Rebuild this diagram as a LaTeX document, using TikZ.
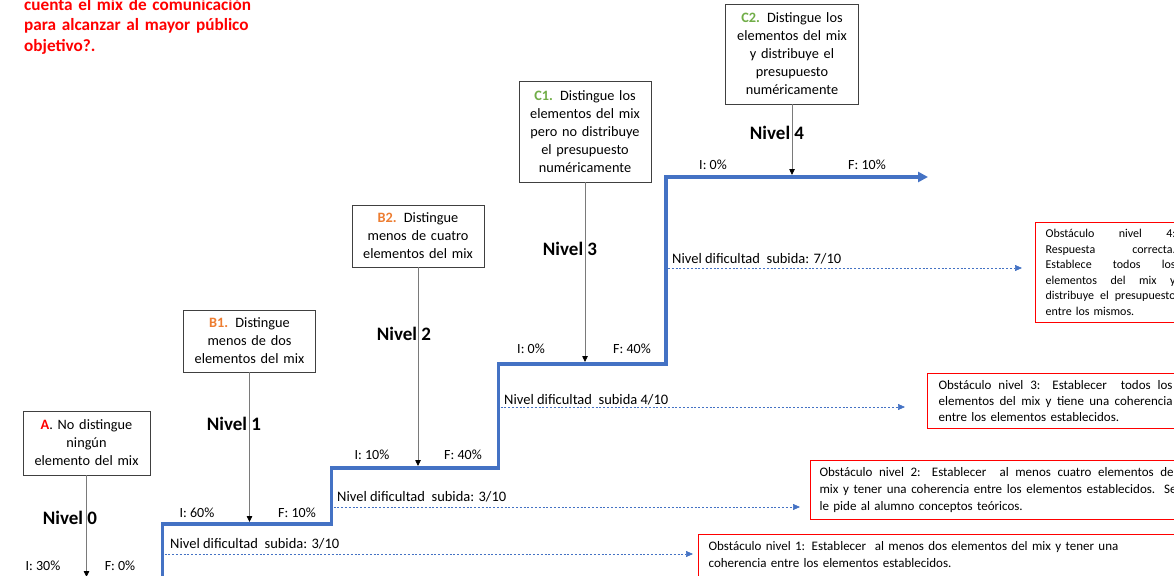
\documentclass[tikz,border=0pt]{standalone}
\usepackage{fontspec}
\setmainfont{Carlito}
\usetikzlibrary{arrows.meta}
\definecolor{oblue}{HTML}{4472C4}
\definecolor{ored}{HTML}{FF0000}
\definecolor{oorange}{HTML}{ED7D31}
\definecolor{ogreen}{HTML}{70AD47}
\definecolor{ogray}{HTML}{7A7A7A}
\newcommand{\jl}[1]{{\spaceskip=0pt\xspaceskip=0pt\makebox[\hsize][s]{#1}}}
\begin{document}
\begin{tikzpicture}[x=1pt,y=-1pt,
  lvlbox/.style={draw=black!75, line width=0.9pt, fill=white, align=center, inner sep=0pt,
    font=\fontsize{14.3}{18}\selectfont},
  obox/.style={draw=ored, line width=1.2pt, anchor=north west, align=left,
    inner xsep=10pt, inner ysep=7pt, font=\fontsize{13}{17}\selectfont},
  nivel/.style={font=\fontsize{19}{22}\selectfont\bfseries, inner sep=0pt},
  pct/.style={font=\fontsize{14}{16}\selectfont, inner sep=0pt},
  diflabel/.style={font=\fontsize{14.5}{16}\selectfont, inner sep=0pt, anchor=base west},
  garrow/.style={draw=ogray, line width=0.8pt, -{Triangle[length=6pt,width=5.5pt,color=black]}},
  stair/.style={draw=oblue, line width=3.2pt, line join=miter, -{Triangle[length=10pt,width=10pt]}},
  dotarrow/.style={draw=oblue, line width=0.7pt, dash pattern=on 2pt off 1.8pt,
    -{Triangle[length=7pt,width=6pt,color=oblue]}}
]
\useasboundingbox (0,0) rectangle (1174,575);
\clip (0,0) rectangle (1174,575);

% title
\node[anchor=base west, align=left, inner sep=0pt, text width=300pt, text=ored,
  font=\fontsize{17.2}{20.3}\selectfont\bfseries] (title) at (24,10.5)
  {cuenta el mix de comunicación\\ para alcanzar al mayor público\\ objetivo?.};

% staircase
\coordinate (s0) at (162.5,585);
\coordinate (s1) at (162.5,524);
\coordinate (s2) at (331.5,524);
\coordinate (s3) at (331.5,468);
\coordinate (s4) at (498.5,468);
\coordinate (s5) at (498.5,364);
\coordinate (s6) at (666,364);
\coordinate (s7) at (666,177);
\coordinate (s8) at (928,177);
\draw[stair] (s0) -- (s1) -- (s2) -- (s3) -- (s4) -- (s5) -- (s6) -- (s7) -- (s8);

% level boxes
\node[lvlbox, minimum width=127pt, minimum height=64pt, text width=125pt] (A) at (86.5,443)
  {\textcolor{ored}{\textbf{A}}. No distingue\\ ningún\\ elemento del mix};
\node[lvlbox, minimum width=132pt, minimum height=62pt, text width=130pt] (B1) at (249.5,341)
  {\textcolor{oorange}{\textbf{B1.}} Distingue\\ menos de dos\\ elementos del mix};
\node[lvlbox, minimum width=132pt, minimum height=62pt, text width=130pt] (B2) at (418,236)
  {\textcolor{oorange}{\textbf{B2.}} Distingue\\ menos de cuatro\\ elementos del mix};
\node[lvlbox, minimum width=132pt, minimum height=101pt, text width=130pt] (C1) at (585,131.5)
  {\textcolor{ogreen}{\textbf{C1.}} Distingue los\\ elementos del mix\\ pero no distribuye\\ el presupuesto\\ numéricamente};
\node[lvlbox, minimum width=133pt, minimum height=100pt, text width=131pt] (C2) at (792,54)
  {\textcolor{ogreen}{\textbf{C2.}} Distingue los\\ elementos del mix\\ y distribuye el\\ presupuesto\\ numéricamente};

% nivel labels
\node[nivel] (n0) at (70,518) {Nivel 0};
\node[nivel] (n1) at (234,424) {Nivel 1};
\node[nivel] (n2) at (404,334) {Nivel 2};
\node[nivel] (n3) at (570,249) {Nivel 3};
\node[nivel] (n4) at (777,133) {Nivel 4};

% I / F labels
\node[pct] (i0) at (43,566) {I: 30\%};
\node[pct] (f0) at (120,566) {F: 0\%};
\node[pct] (i1) at (197,513) {I: 60\%};
\node[pct] (f1) at (297,513) {F: 10\%};
\node[pct] (i2) at (372,455) {I: 10\%};
\node[pct] (f2) at (463,455) {F: 40\%};
\node[pct] (i3) at (531,349) {I: 0\%};
\node[pct] (f3) at (632,349) {F: 40\%};
\node[pct] (i4) at (713,165) {I: 0\%};
\node[pct] (f4) at (867,165) {F: 10\%};

% level arrows
\coordinate (e0) at (86.5,577);
\draw[garrow] (A.south) -- (A.south |- e0);
\draw[garrow, shorten >=2pt] (B1.south) -- (B1.south |- s1);
\draw[garrow, shorten >=2pt] (B2.south) -- (B2.south |- s3);
\draw[garrow, shorten >=2pt] (C1.south) -- (C1.south |- s5);
\draw[garrow, shorten >=2pt] (C2.south) -- (C2.south |- s7);

% obstacle boxes
\node[obox, text width=500pt] (O1) at (698,534)
  {Obstáculo nivel 1: Establecer\ \ al menos dos elementos del mix y tener una\\
   coherencia entre los elementos establecidos.\\ \mbox{}};
\node[obox, text width=357pt, inner xsep=9pt] (O2) at (810,460)
  {\jl{Obstáculo nivel 2: Establecer\ \ al menos cuatro elementos del}\\
   \jl{mix y tener una coherencia entre los elementos establecidos. Se}\\
   le pide al alumno conceptos teóricos.};
\node[obox, text width=234pt, inner xsep=11pt, font=\fontsize{13}{16}\selectfont] (O3) at (927,373)
  {\jl{Obstáculo nivel 3: Establecer\ \ todos los}\\
   \jl{elementos del mix y tiene una coherencia}\\
   entre los elementos establecidos.};
\node[obox, text width=130pt, font=\fontsize{12}{15.5}\selectfont] (O4) at (1035,222)
  {\jl{Obstáculo nivel 4:}\\
   \jl{Respuesta correcta.}\\
   \jl{Establece todos los}\\
   \jl{elementos del mix y}\\
   \jl{distribuye el presupuesto}\\
   entre los mismos.};

% difficulty arrows
\coordinate (d1) at (164.5,554);
\coordinate (d2) at (333.5,507);
\coordinate (d3) at (500.5,407);
\coordinate (d4) at (668,268);
\draw[dotarrow, shorten >=5pt] (d1) -- (d1 -| O1.west);
\draw[dotarrow, shorten >=10pt] (d2) -- (d2 -| O2.west);
\draw[dotarrow, shorten >=22pt] (d3) -- (d3 -| O3.west);
\draw[dotarrow, shorten >=13pt] (d4) -- (d4 -| O4.west);
\node[diflabel] (l1) at (170,548) {Nivel dificultad\ \ subida: 3/10};
\node[diflabel] (l2) at (337,501) {Nivel dificultad\ \ subida: 3/10};
\node[diflabel] (l3) at (504,404) {Nivel dificultad\ \ subida 4/10};
\node[diflabel] (l4) at (672,263) {Nivel dificultad\ \ subida: 7/10};
\end{tikzpicture}
\end{document}
